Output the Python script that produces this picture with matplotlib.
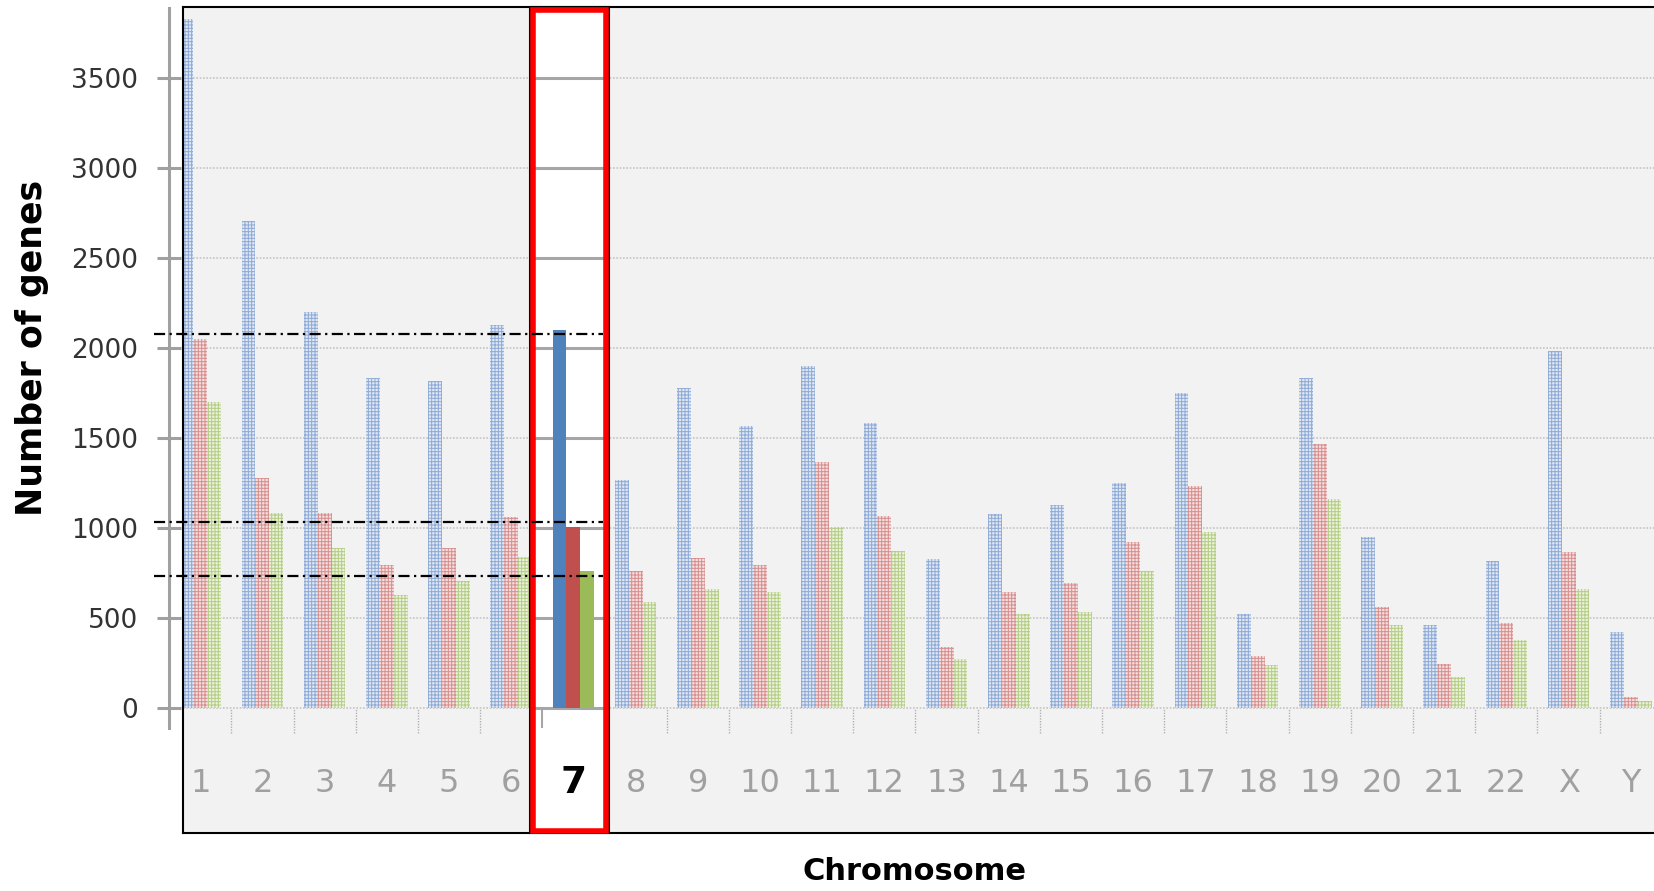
import matplotlib
matplotlib.use("Agg")
from matplotlib import pyplot as plt
from matplotlib import font_manager
from matplotlib.patches import Rectangle
import numpy as np

chroms = ['1', '2', '3', '4', '5', '6', '7', '8', '9', '10', '11', '12',
          '13', '14', '15', '16', '17', '18', '19', '20', '21', '22', 'X', 'Y']
blue = [3830, 2705, 2200, 1835, 1815, 2130, 2100, 1265, 1780, 1565, 1900, 1585,
        830, 1080, 1130, 1250, 1750, 525, 1835, 950, 460, 815, 1985, 425]
red = [2050, 1280, 1085, 795, 890, 1060, 1005, 760, 835, 795, 1365, 1065,
       340, 645, 695, 925, 1235, 290, 1465, 560, 245, 475, 865, 60]
green = [1700, 1085, 890, 630, 705, 840, 760, 590, 660, 645, 1005, 875,
         270, 525, 535, 760, 980, 240, 1160, 460, 170, 380, 660, 40]
yticks = [0, 500, 1000, 1500, 2000, 2500, 3000, 3500]
ref_levels = [2080, 1035, 735]   # dash-dot guide lines
highlight = '7'

# pick a narrow font if there is one
names = {f.name for f in font_manager.fontManager.ttflist}
narrow = 'Liberation Sans Narrow' if 'Liberation Sans Narrow' in names else 'DejaVu Sans'

plt.rcParams['hatch.linewidth'] = 0.7

fig = plt.figure(figsize=(16.54, 8.91), dpi=100)
ax = fig.add_axes([0.1106, 0.0651, 0.8978, 0.9270])
ax.set_facecolor('#f2f2f2')
ax.set_xlim(-0.278, 23.597)
ax.set_ylim(-694, 3894)

x = np.arange(len(chroms))
w = 0.2235
hi = chroms.index(highlight)
box_l, box_r = 5.35, 6.53

# dotted grid over the faded area
ax.hlines(yticks, -0.278, 23.597, colors='#c4c4c4', linestyles=(0, (1, 1)), lw=1.2, zorder=1)

# faded (patterned) bars
faded = [('#dfe7f3', '#8eaad6'), ('#f4dede', '#d68f8e'), ('#eaf1dc', '#b5cc85')]
for k, (vals, (fc, hc)) in enumerate(zip([blue, red, green], faded)):
    ax.bar(x + (k - 1) * w, vals, width=w, facecolor=fc, edgecolor=hc,
           hatch='+++++', linewidth=0, zorder=2)

# category tick marks and labels
ax.vlines(x[:-1] + 0.5, -139, 0, colors='#b0b0b0', linestyles=(0, (1, 1)), lw=1, zorder=2)
for i, c in enumerate(chroms):
    if c != highlight:
        ax.text(i, -417, c, ha='center', va='center', fontsize=23,
                family=narrow, color='#a0a0a0', zorder=2)

# highlighted chromosome panel
ax.add_patch(Rectangle((box_l, 0), box_r - box_l, 1, transform=ax.get_xaxis_transform(),
                       facecolor='white', edgecolor='none', zorder=3))
ax.hlines(yticks, box_l, box_r, colors='#a6a6a6', lw=2.2, zorder=4)
ax.vlines(hi - 0.5, -110, 0, colors='#a6a6a6', lw=1.5, zorder=4)
solid = ['#4f81bd', '#c0504d', '#9bbb59']
for k, (vals, col) in enumerate(zip([blue, red, green], solid)):
    ax.bar(x[hi] + (k - 1) * w, vals[hi], width=w, color=col, zorder=5)
ax.text(hi, -417, highlight, ha='center', va='center', fontsize=27,
        fontweight='bold', color='black', zorder=6)
ax.add_patch(Rectangle((box_l - 0.05, 0), box_r - box_l + 0.1, 1, transform=ax.get_xaxis_transform(),
                       facecolor='none', edgecolor='black', lw=1.5, zorder=6, clip_on=False))
ax.add_patch(Rectangle((box_l, 0.002), box_r - box_l, 0.995, transform=ax.get_xaxis_transform(),
                       facecolor='none', edgecolor='#ff0000', lw=4, zorder=7, clip_on=False))

# dash-dot guide lines
for lv in ref_levels:
    ax.plot([-0.744, 6.47], [lv, lv], color='black', lw=1.6,
            linestyle=(0, (5, 2, 1, 2)), zorder=8, clip_on=False)

# axes frame
for s in ['top', 'bottom']:
    ax.spines[s].set_color('black')
    ax.spines[s].set_linewidth(1.5)
ax.spines['right'].set_visible(False)
ax.spines['left'].set_position(('outward', 10))
ax.spines['left'].set_color('#a0a0a0')
ax.spines['left'].set_linewidth(2.2)
ax.spines['left'].set_bounds(-110, 3890)
ax.axvline(-0.278, color='black', lw=1.5, zorder=9, clip_on=False)

ax.set_yticks(yticks)
ax.set_yticklabels([str(v) for v in yticks], fontsize=19, color='#333333')
ax.tick_params(axis='y', direction='inout', length=17, width=2.2, color='#a0a0a0', pad=13.5)
ax.set_xticks([])

fig.text(32 / 1654, 1 - 348 / 891, 'Number of genes', rotation=90, ha='center', va='center',
         fontsize=25, fontweight='bold')
fig.text(915 / 1654, 1 - 871 / 891, 'Chromosome', ha='center', va='center',
         fontsize=22, fontweight='bold')

fig.savefig('out.png', dpi=100)
